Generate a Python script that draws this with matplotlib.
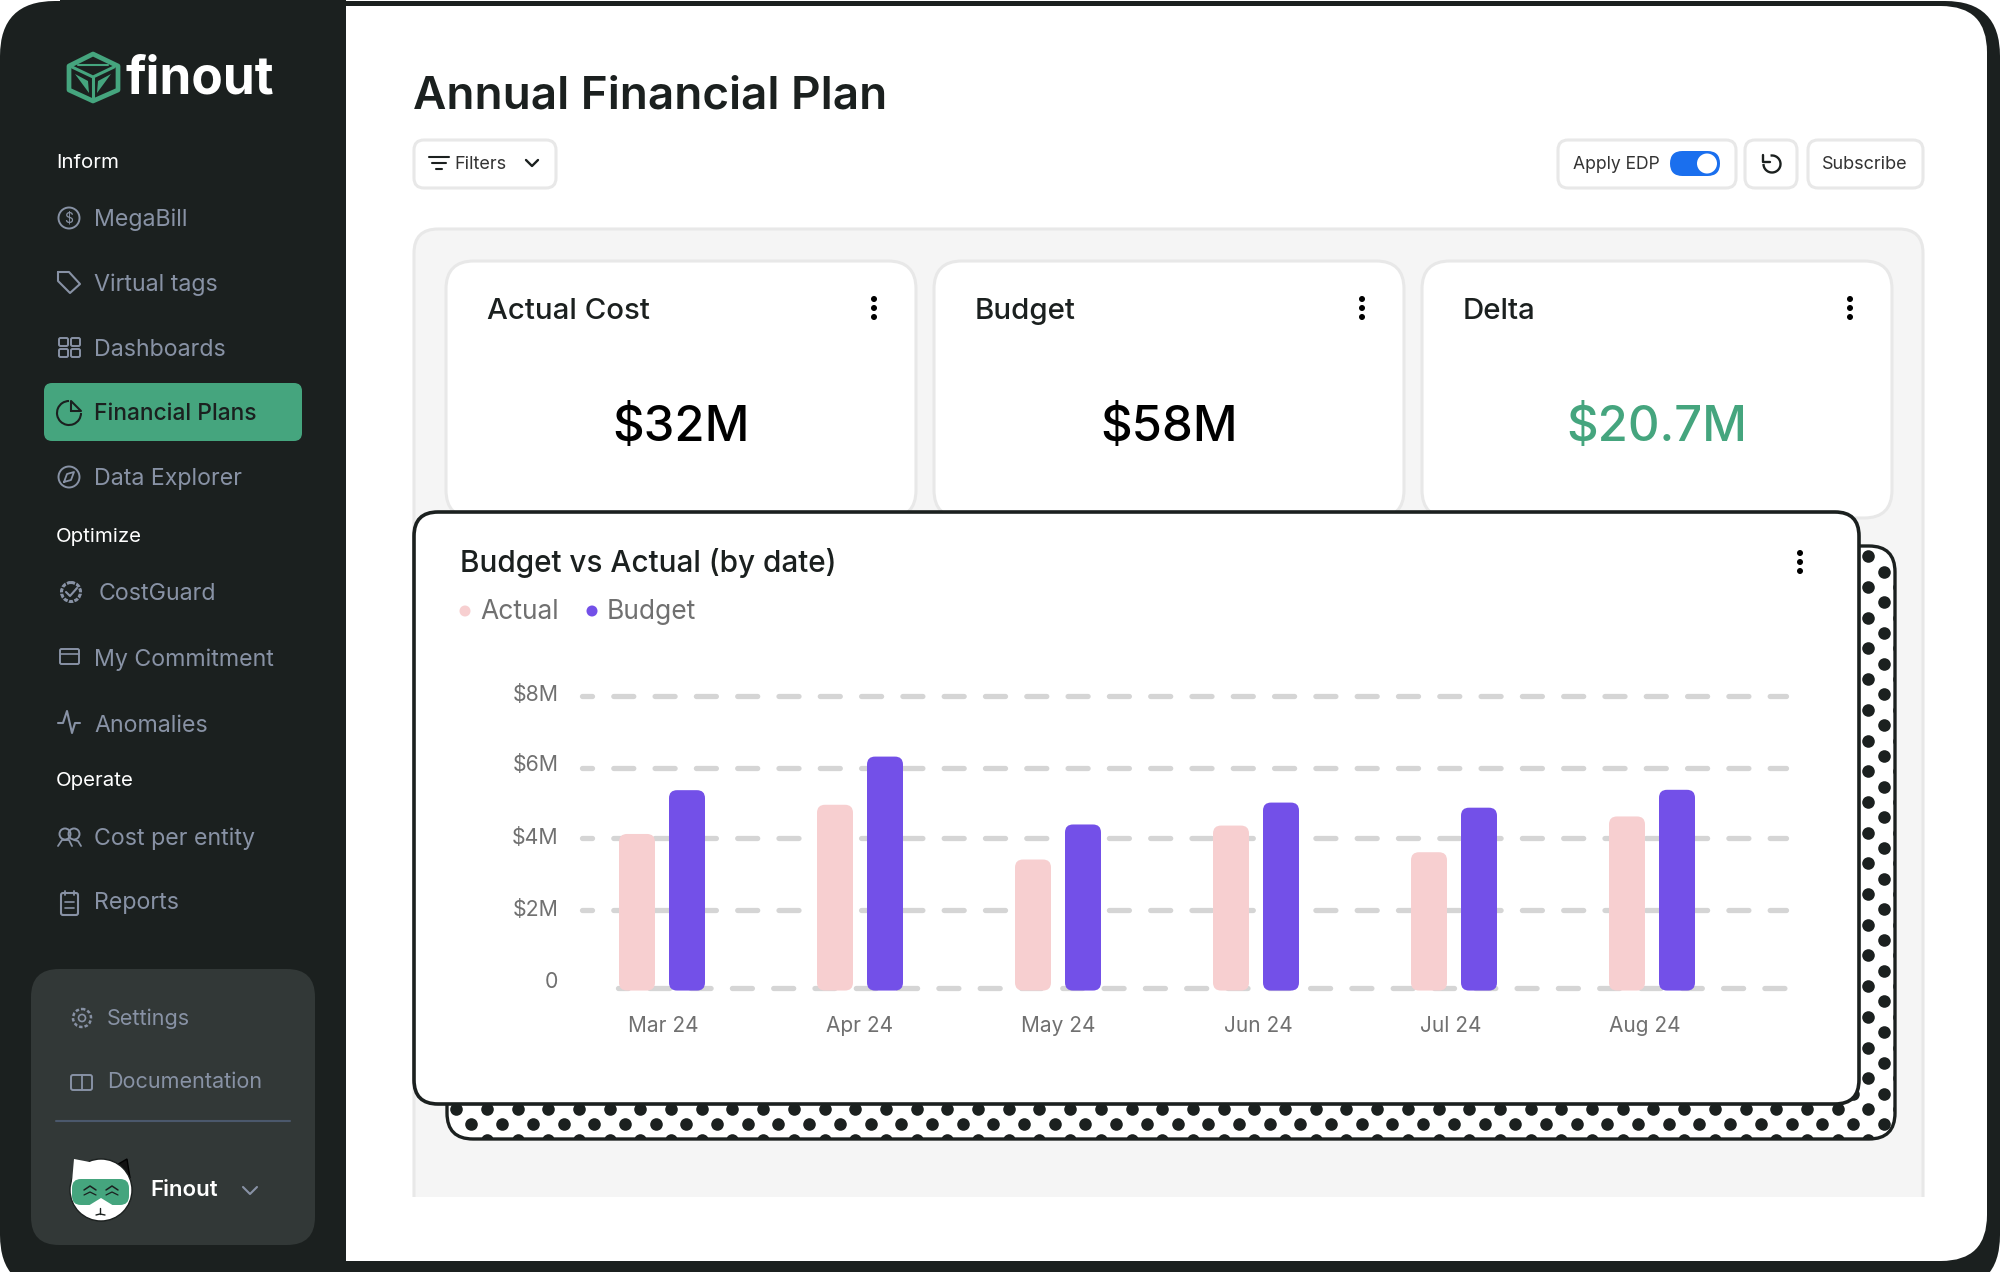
import matplotlib
matplotlib.use('Agg')
import matplotlib.pyplot as plt
import numpy as np
from matplotlib.patches import FancyBboxPatch, Circle, Rectangle, Polygon, Arc
from matplotlib.transforms import ScaledTranslation

plt.rcParams['font.family'] = ['Inter', 'DejaVu Sans']
plt.rcParams['lines.scale_dashes'] = False
plt.rcParams['lines.dash_capstyle'] = 'round'

# chart data ($M)
months = ['Mar 24', 'Apr 24', 'May 24', 'Jun 24', 'Jul 24', 'Aug 24']
actual = [4.22, 5.02, 3.52, 4.45, 3.72, 4.70]
budget = [5.42, 6.34, 4.48, 5.08, 4.94, 5.43]
grid_vals = [0, 2.13, 4.11, 6.02, 8]
grid_labels = ['0', '$2M', '$4M', '$6M', '$8M']

# cards and sidebar text
card_titles = ['Actual Cost', 'Budget', 'Delta']
card_values = ['$32M', '$58M', '$20.7M']
nav_heads = [('Inform', 161), ('Optimize', 535), ('Operate', 779)]
nav_items = [('MegaBill', 218), ('Virtual tags', 283), ('Dashboards', 348),
             ('Data Explorer', 477), ('My Commitment', 658), ('Anomalies', 724),
             ('Cost per entity', 837), ('Reports', 902)]

DARK = '#1b201f'
GREEN = '#45a57e'
NAV = '#8892a5'
PINK = '#f7cfd0'
PURPLE = '#7350e8'
GREY = '#707070'
LINE = '#e8e8e8'
GRID = '#d5d5d5'

fig = plt.figure(figsize=(20, 12.72), dpi=100, facecolor='white')
bg = fig.add_axes([0, 0, 1, 1])
bg.set_xlim(0, 2000)
bg.set_ylim(1272, 0)
bg.axis('off')


def box(x0, y0, x1, y1, r, fc, ec='none', lw=0, z=1):
    p = FancyBboxPatch((x0, y0), x1 - x0, y1 - y0, boxstyle=f'round,pad=0,rounding_size={r}',
                       fc=fc, ec=ec, lw=lw, zorder=z)
    bg.add_patch(p)
    return p


def txt(x, y, s, size, color=DARK, weight='normal', ha='left', z=8):
    bg.text(x, y + 1.5, s, fontsize=size, color=color, weight=weight, ha=ha, va='center', zorder=z)


def lines(pts, color=NAV, lw=1.5, z=8):
    xs, ys = zip(*pts)
    bg.plot(xs, ys, color=color, lw=lw, zorder=z, solid_capstyle='round', solid_joinstyle='round')


def dots3(x, y):
    for d in (-9, 0, 9):
        bg.add_patch(Circle((x, y + d), 3, fc='black', ec='none', zorder=8))


# outer frame
box(0, 1, 2000, 1290, 55, DARK, z=0)
box(250, 6, 1987, 1261, 46, 'white', z=1)
bg.add_patch(Rectangle((60, 0), 286, 1272, fc=DARK, ec='none', zorder=2))
bg.add_patch(Rectangle((0, 60), 60, 1150, fc=DARK, ec='none', zorder=2))

# logo
hexa = [(93, 54), (118, 66), (118, 90), (93, 101), (69, 90), (69, 66)]
bg.add_patch(Polygon(hexa, closed=True, fc='none', ec=GREEN, lw=3.4, joinstyle='round', zorder=5))
lines([(72, 67), (93, 77), (114, 67)], GREEN, 2.2)
lines([(93, 77), (93, 99)], GREEN, 2.2)
lines([(78, 65), (108, 65)], GREEN, 1.5)
bg.add_patch(Polygon([(75, 74), (88, 81), (89, 93)], fc=GREEN, ec='none', zorder=5))
bg.add_patch(Polygon([(111, 74), (98, 81), (97, 93)], fc=GREEN, ec='none', zorder=5))
txt(126, 78, 'finout', 37, 'white', 'bold')

# sidebar
for name, y in nav_heads:
    txt(56, y, name, 14.7, 'white')
for name, y in nav_items:
    txt(94, y, name, 16.7, NAV)
txt(99, 592, 'CostGuard', 16.7, NAV)

box(44, 383, 302, 441, 8, GREEN, z=3)
txt(94, 412, 'Financial Plans', 16.4, DARK, 'medium')
bg.add_patch(Arc((69, 413), 24, 24, theta1=0, theta2=270, ec=DARK, lw=1.5, zorder=8))
lines([(71, 411), (71, 401), (81, 411), (71, 411)], DARK, 1.5)

# sidebar icons
bg.add_patch(Circle((69, 218), 10.5, fc='none', ec=NAV, lw=1.4, zorder=8))
bg.text(69, 218, '$', fontsize=10, color=NAV, ha='center', va='center', zorder=8)
lines([(58, 272), (69, 272), (80, 284), (70, 293), (58, 281), (58, 272)])
for xx, yy in [(59, 338), (71, 338), (59, 349), (71, 349)]:
    box(xx, yy, xx + 9, yy + 8, 1.5, 'none', NAV, 1.4, z=8)
bg.add_patch(Circle((69, 477), 10.5, fc='none', ec=NAV, lw=1.4, zorder=8))
lines([(64, 482), (67, 474), (74, 472), (71, 480), (64, 482)], NAV, 1.3)
bg.add_patch(Circle((71, 592), 9.5, fc='none', ec=NAV, lw=2.2, ls=(0, (3, 1)), zorder=8))
lines([(66, 592), (70, 596), (77, 588)], NAV, 1.5)
box(60, 649, 79, 664, 1.5, 'none', NAV, 1.4, z=8)
lines([(60, 654), (79, 654)], NAV, 1.2)
lines([(58, 723), (63, 723), (67, 711), (72, 733), (75, 723), (80, 723)], NAV, 1.5)
bg.add_patch(Circle((65, 834), 5.5, fc='none', ec=NAV, lw=1.4, zorder=8))
bg.add_patch(Circle((74, 834), 5.5, fc='none', ec=NAV, lw=1.4, zorder=8))
lines([(58, 846), (62, 840), (69, 840), (72, 846)], NAV, 1.3)
lines([(74, 840), (78, 841), (81, 846)], NAV, 1.3)
box(61, 893, 78, 915, 2, 'none', NAV, 1.5, z=8)
lines([(65, 891), (65, 895)], NAV, 1.3)
lines([(74, 891), (74, 895)], NAV, 1.3)
lines([(65, 902), (74, 902)], NAV, 1.2)
lines([(65, 908), (74, 908)], NAV, 1.2)

# lower sidebar card
box(31, 969, 315, 1245, 28, '#323837', z=3)
txt(107, 1017, 'Settings', 15.5, NAV)
txt(107, 1081, 'Documentation', 15.5, NAV)
bg.add_patch(Circle((82, 1018), 9, fc='none', ec=NAV, lw=1.8, ls=(0, (2.5, 1.5)), zorder=8))
bg.add_patch(Circle((82, 1018), 3.5, fc='none', ec=NAV, lw=1.2, zorder=8))
box(71, 1075, 92, 1090, 2, 'none', NAV, 1.4, z=8)
lines([(82, 1075), (82, 1090)], NAV, 1.3)
lines([(56, 1121), (290, 1121)], '#4b586c', 1.5)
txt(150, 1188, 'Finout', 16, 'white', 'semibold')
lines([(243, 1187), (250, 1194), (257, 1187)], NAV, 1.5)

# cat avatar
bg.add_patch(Polygon([(108, 1170), (127, 1159), (130, 1178)], fc='#111111', ec='black', zorder=4))
bg.add_patch(Circle((101, 1190), 31, fc='white', ec=DARK, lw=1.0, zorder=5))
bg.add_patch(Polygon([(74, 1159), (95, 1163), (72, 1182)], fc='white', ec='none', zorder=6))
box(72, 1179, 129, 1205, 9, GREEN, z=6)
lines([(84, 1190), (90, 1186), (96, 1190)], DARK, 1.1)
lines([(106, 1190), (112, 1186), (118, 1190)], DARK, 1.1)
lines([(84, 1195), (90, 1192), (96, 1195)], DARK, 0.9)
lines([(106, 1195), (112, 1192), (118, 1195)], DARK, 0.9)
bg.add_patch(Polygon([(88, 1206), (101, 1198), (114, 1206)], fc='white', ec='none', zorder=6.5))
lines([(100, 1208), (100, 1214)], DARK, 1.0)
lines([(96, 1215), (100, 1214), (105, 1215)], DARK, 1.0)

# header
txt(413, 95, 'Annual Financial Plan', 33, DARK, 'semibold')
box(414, 140, 556, 188, 10, 'white', LINE, 2.2, z=3)
for yy, a, b in [(157, 429, 449), (163, 432, 446), (169, 436, 442)]:
    lines([(a, yy), (b, yy)], DARK, 1.5)
txt(454, 163, 'Filters', 13, '#333333')
lines([(526, 160), (532, 166), (538, 160)], DARK, 1.7)

box(1558, 140, 1736, 188, 10, 'white', LINE, 2.2, z=3)
box(1745, 140, 1797, 188, 10, 'white', LINE, 2.2, z=3)
box(1808, 140, 1923, 188, 10, 'white', LINE, 2.2, z=3)
txt(1573, 163, 'Apply EDP', 12.6, '#333333')
box(1670, 151, 1720, 176, 12.5, '#1a6fee', z=4)
bg.add_patch(Circle((1707, 163.5), 10, fc='white', ec='none', zorder=5))
txt(1865, 163, 'Subscribe', 13, '#333333', ha='center')
bg.add_patch(Arc((1772, 164), 17, 17, theta1=260, theta2=540, ec=DARK, lw=1.7, zorder=8))
lines([(1763, 155), (1763, 162), (1770, 162)], DARK, 1.7)

# grey panel and KPI cards
box(414, 229, 1923, 1240, 24, '#f5f5f5', LINE, 2.2, z=2)
bg.add_patch(Rectangle((400, 1197), 1540, 60, fc='white', ec='none', zorder=2.5))
for i, x0 in enumerate([446, 934, 1422]):
    box(x0, 261, x0 + 470, 518, 28, 'white', LINE, 2.2, z=3)
    txt(x0 + 41, 310, card_titles[i], 21.2, DARK, 'medium')
    dots3(x0 + 428, 308)
    col = GREEN if i == 2 else 'black'
    txt(x0 + 235, 427, card_values[i], 35.3, col, 'medium', ha='center')

# dotted shadow card
shadow = box(447, 546, 1895, 1139, 26, 'white', DARK, 2.4, z=3)
gx, gy = np.meshgrid(np.arange(1883.7, 430, -30.7), np.arange(1124.3, 520, -30.7))
dx = np.r_[gx.ravel(), gx.ravel() + 15.35]
dy = np.r_[gy.ravel(), gy.ravel() + 15.35]
dots = bg.scatter(dx, dy, s=82, c=DARK, linewidths=0, zorder=3.5)
dots.set_clip_path(shadow)

# chart card
box(414, 512, 1859, 1104, 24, 'white', DARK, 2.6, z=4)
txt(460, 561.5, 'Budget vs Actual (by date)', 21.4, DARK, 'medium')
dots3(1800, 562)
bg.add_patch(Circle((465, 611), 5.5, fc=PINK, ec='none', zorder=8))
txt(480, 610.5, 'Actual', 19, GREY)
bg.add_patch(Circle((592, 611), 5.5, fc=PURPLE, ec='none', zorder=8))
txt(607, 610.5, 'Budget', 19, GREY)

# chart
ax = fig.add_axes([582 / 2000, (1272 - 988) / 1272, (1786 - 582) / 2000, (988 - 696) / 1272], zorder=5)
ax.patch.set_alpha(0)
px_x, px_y = 198.0, 36.5
ax.set_xlim((582 - 662) / px_x, (1786 - 662) / px_x)
ax.set_ylim(0, 8)
for s in ax.spines.values():
    s.set_visible(False)

ax.set_yticks(grid_vals, grid_labels)
ax.set_xticks(range(len(months)), months)
ax.tick_params(axis='y', length=0, pad=17, labelsize=15.3, labelcolor=GREY)
ax.tick_params(axis='x', length=0, pad=20, labelsize=15, labelcolor=GREY)

dash = (10 * 0.72, (20 * 0.72, 21.3 * 0.72))
ax.grid(axis='y', color=GRID, lw=3.8, linestyle=dash)
ax.set_axisbelow(True)
for tick in ax.yaxis.get_major_ticks():
    tick.gridline.set_clip_on(False)
ax.yaxis.get_major_ticks()[0].gridline.set_visible(False)
ax.plot([(618 - 662) / px_x, (1786 - 662) / px_x], [0, 0], color=GRID, lw=3.8, linestyle=dash,
        clip_on=False, zorder=1)

# tick labels sit a little off their ticks in the original
for tick, up in zip(ax.yaxis.get_major_ticks(), [8, 2.5, 2, 5, 3]):
    tick.label1.set_transform(tick.label1.get_transform() + ScaledTranslation(0, up / 100, fig.dpi_scale_trans))
for tick, right in zip(ax.xaxis.get_major_ticks(), [1, 0, 0.5, 2, -3, -7.5]):
    tick.label1.set_transform(tick.label1.get_transform() + ScaledTranslation(right / 100, 0, fig.dpi_scale_trans))

bar_w = 36 / px_x
off = 25 / px_x
base = -0.07
for vals, sign, col in [(actual, -1, PINK), (budget, 1, PURPLE)]:
    for i, v in enumerate(vals):
        ax.add_patch(FancyBboxPatch((i + sign * off - bar_w / 2, base), bar_w, v - base,
                                    boxstyle=f'round,pad=0,rounding_size={8 / px_x}',
                                    mutation_aspect=px_x / px_y, fc=col, ec='none',
                                    clip_on=False, zorder=3))

fig.savefig('out.png', dpi=100)
